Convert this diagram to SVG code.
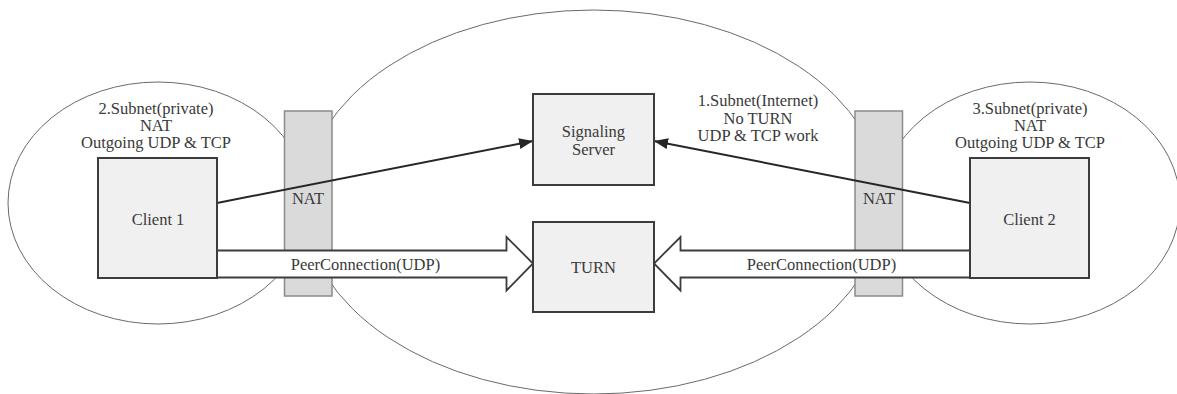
<svg xmlns="http://www.w3.org/2000/svg" width="1177" height="394" viewBox="0 0 1177 394">
  <style>
    .zone { fill: none; stroke: #6a6a6a; stroke-width: 1; }
    .nat { fill: #dadadb; stroke: #8a8a8a; stroke-width: 1.5; }
    .box { fill: #f0f0f0; stroke: #3c3c3c; stroke-width: 2; }
    .pipe { fill: #ffffff; stroke: #3c3c3c; stroke-width: 1.8; stroke-linejoin: miter; }
    .link { fill: none; stroke: #262626; stroke-width: 2; }
    .lbl { font-size: 16.5px; fill: #3a3a3a; text-anchor: middle; }
  </style>
  <defs>
    <marker id="head" markerUnits="userSpaceOnUse" markerWidth="15" markerHeight="12" refX="14" refY="5.5" orient="auto">
      <path d="M0,0 L14,5.5 L0,11 z" fill="#262626"/>
    </marker>
  </defs>

  <g font-family="'Liberation Serif', 'DejaVu Serif', serif">
  <!-- subnet regions -->
  <g id="subnet-internet">
    <ellipse class="zone" cx="593.5" cy="202" rx="290" ry="192"/>
    <text class="lbl" x="758" y="106">1.Subnet(Internet)</text>
    <text class="lbl" x="758" y="123.5">No TURN</text>
    <text class="lbl" x="758" y="141">UDP &amp; TCP work</text>
  </g>
  <g id="subnet-left">
    <ellipse class="zone" cx="158" cy="203" rx="150" ry="121"/>
    <text class="lbl" x="156" y="114">2.Subnet(private)</text>
    <text class="lbl" x="156" y="131">NAT</text>
    <text class="lbl" x="156" y="148">Outgoing UDP &amp; TCP</text>
  </g>
  <g id="subnet-right">
    <ellipse class="zone" cx="1030" cy="203" rx="150" ry="121"/>
    <text class="lbl" x="1030" y="114">3.Subnet(private)</text>
    <text class="lbl" x="1030" y="131">NAT</text>
    <text class="lbl" x="1030" y="148">Outgoing UDP &amp; TCP</text>
  </g>

  <!-- NAT gateways -->
  <g id="nat-left">
    <rect class="nat" x="284.5" y="111" width="47.5" height="185"/>
    <text class="lbl" x="308" y="204">NAT</text>
  </g>
  <g id="nat-right">
    <rect class="nat" x="855" y="111" width="47.5" height="185"/>
    <text class="lbl" x="879" y="204">NAT</text>
  </g>

  <!-- connectors -->
  <g id="connectors">
    <polygon class="pipe" points="217,250.5 506.5,250.5 506.5,237 533,263.5 506.5,290.5 506.5,277.5 217,277.5"/>
    <polygon class="pipe" points="970,250.5 680.5,250.5 680.5,237 654,263.5 680.5,290.5 680.5,277.5 970,277.5"/>
    <text class="lbl" x="365.5" y="270">PeerConnection(UDP)</text>
    <text class="lbl" x="821.5" y="270">PeerConnection(UDP)</text>
    <line class="link" x1="217" y1="203" x2="533" y2="141" marker-end="url(#head)"/>
    <line class="link" x1="970" y1="203" x2="654" y2="141" marker-end="url(#head)"/>
  </g>

  <!-- nodes -->
  <g id="client1">
    <rect class="box" x="98" y="158" width="119" height="120"/>
    <text class="lbl" x="158" y="225">Client 1</text>
  </g>
  <g id="client2">
    <rect class="box" x="970" y="158" width="119" height="120"/>
    <text class="lbl" x="1029.5" y="225">Client 2</text>
  </g>
  <g id="signaling">
    <rect class="box" x="533" y="94" width="121" height="91"/>
    <text class="lbl" x="593.5" y="136.5">Signaling</text>
    <text class="lbl" x="593.5" y="155">Server</text>
  </g>
  <g id="turn">
    <rect class="box" x="533" y="222" width="121" height="90"/>
    <text class="lbl" x="593.5" y="273">TURN</text>
  </g>
  </g>
</svg>
